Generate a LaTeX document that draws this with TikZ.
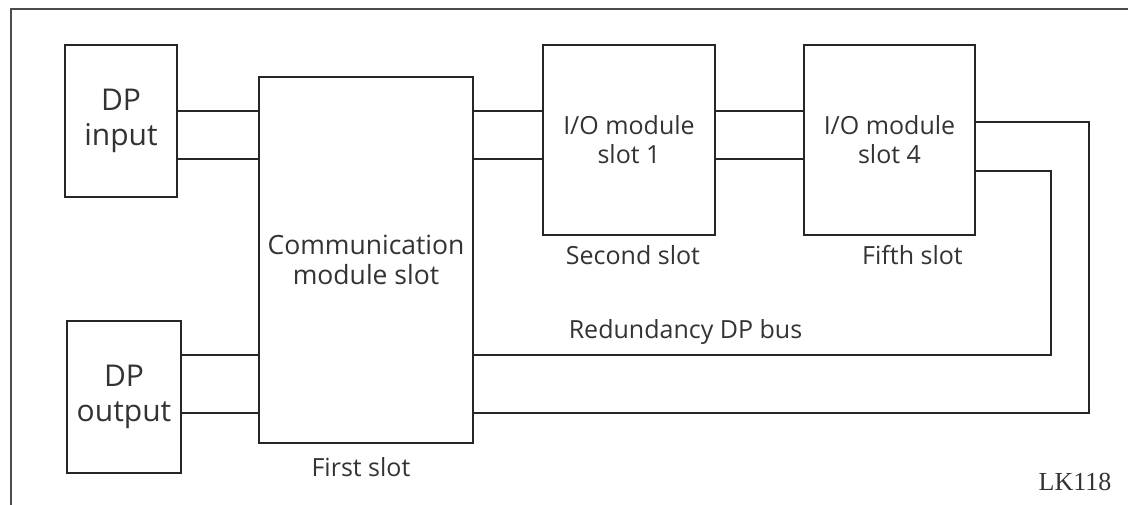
\documentclass[tikz,border=0pt]{standalone}
\usepackage{fontspec}
\setmainfont{Open Sans}
\newfontfamily\lkfont{Liberation Serif}
\begin{document}
\begin{tikzpicture}[x=1pt,y=-1pt,
  box/.style={draw=black!85, line width=1.6pt, rectangle, inner sep=0pt, align=center, text=black!80, font=\fontsize{25}{29}\selectfont},
  bigbox/.style={box, font=\fontsize{30}{35}\selectfont},
  wire/.style={draw=black!85, line width=1.6pt},
  lbl/.style={inner sep=0pt, anchor=base, text=black!80, font=\fontsize{25}{30}\selectfont}]
\useasboundingbox (0,0) rectangle (1128,505);
\draw[line width=2.2pt, black!70] (11,505) -- (11,9) -- (1128,9);

\node[bigbox, minimum width=112pt, minimum height=152pt] (dpin) at (121,121) {DP\\input};
\node[bigbox, minimum width=114pt, minimum height=152pt] (dpout) at (124,397) {DP\\output};
\node[box, minimum width=214pt, minimum height=366pt, font=\fontsize{26.5}{30}\selectfont] (comm) at (366,260) {Communication\\module slot};
\node[box, minimum width=172pt, minimum height=190pt] (io1) at (629,140) {I/O module\\slot 1};
\node[box, minimum width=171pt, minimum height=190pt] (io4) at (889.5,140) {I/O module\\slot 4};

\node[lbl] (l1) at (361,476) {First slot};
\node[lbl] (l2) at (633,265) {Second slot};
\node[lbl] (l5) at (912.5,265) {Fifth slot};
\node[lbl] (lr) at (685.5,338) {Redundancy DP bus};
\node[lbl, font=\lkfont\fontsize{26}{30}\selectfont] (lk) at (1075,490) {LK118};

\coordinate (c1) at (1089,122);
\coordinate (c2) at (1051,171);

\draw[wire] (dpin.east |- 0,111) -- (comm.west |- 0,111);
\draw[wire] (dpin.east |- 0,159) -- (comm.west |- 0,159);
\draw[wire] (dpout.east |- 0,355) -- (comm.west |- 0,355);
\draw[wire] (dpout.east |- 0,413) -- (comm.west |- 0,413);
\draw[wire] (comm.east |- 0,111) -- (io1.west |- 0,111);
\draw[wire] (comm.east |- 0,159) -- (io1.west |- 0,159);
\draw[wire] (io1.east |- 0,111) -- (io4.west |- 0,111);
\draw[wire] (io1.east |- 0,159) -- (io4.west |- 0,159);
\draw[wire] (io4.east |- c1) -- (c1) -- (c1 |- 0,413) -- (comm.east |- 0,413);
\draw[wire] (io4.east |- c2) -- (c2) -- (c2 |- 0,355) -- (comm.east |- 0,355);
\end{tikzpicture}
\end{document}
